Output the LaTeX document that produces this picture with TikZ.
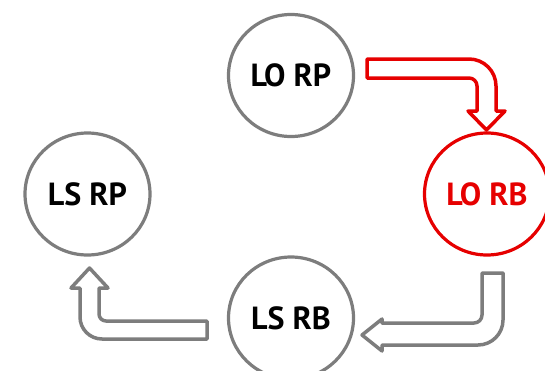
\documentclass[tikz,border=0pt]{standalone}
\usepackage{fontspec}
\setmainfont{PT Sans}
\usetikzlibrary{shapes.geometric}
\definecolor{ringgray}{RGB}{125,125,125}
\definecolor{alertred}{RGB}{230,0,0}
\tikzset{
  state/.style={ellipse, draw=ringgray, line width=3.2pt, fill=white,
    minimum width=125pt, minimum height=122pt, inner sep=0pt,
    font=\fontsize{32}{32}\selectfont\bfseries, text=black},
  hotstate/.style={state, draw=alertred, text=alertred},
  bentarrow/.style={draw=ringgray, line width=3.5pt, fill=white, line join=round},
  hotarrow/.style={bentarrow, draw=alertred}
}
\begin{document}
\begin{tikzpicture}[x=1pt, y=-1pt]
\useasboundingbox (0,0) rectangle (545,370);
% the four states
\node[state]    (lorp) at (291,75.5) {LO RP};
\node[hotstate] (lorb) at (487,194)  {LO RB};
\node[state]    (lsrb) at (291,318)  {LS RB};
\node[state]    (lsrp) at (87.5,194) {LS RP};
% LO RP -> LO RB
\draw[hotarrow] (367,59) -- (469,59) arc[start angle=-90, end angle=0, radius=27]
  -- (496,111) -- (505,111) -- (486.5,130) -- (468,111) -- (477,111) -- (477,86)
  arc[start angle=0, end angle=-90, radius=8] -- (367,78) -- cycle;
% LO RB -> LS RB
\draw[bentarrow] (482,273) -- (503,273) -- (503,320) arc[start angle=0, end angle=90, radius=25]
  -- (382,345) -- (382,351) -- (362,335) -- (382,319) -- (382,323) -- (474,323)
  arc[start angle=90, end angle=0, radius=8] -- cycle;
% LS RB -> LS RP
\draw[bentarrow] (207,321) -- (207,339) -- (102,339) arc[start angle=90, end angle=180, radius=22]
  -- (80,288) -- (71,288) -- (89.5,268) -- (108,288) -- (99,288) -- (99,314)
  arc[start angle=180, end angle=90, radius=7] -- cycle;
\end{tikzpicture}
\end{document}
